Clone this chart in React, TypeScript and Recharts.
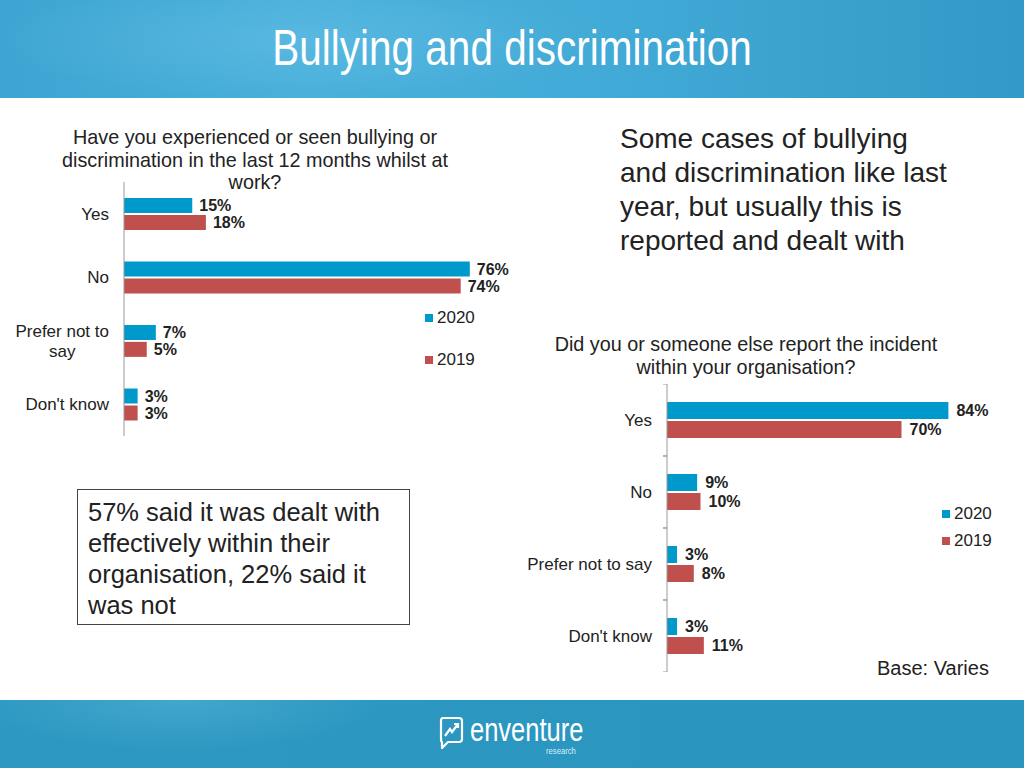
import React from "react";
import { BarChart, Bar, XAxis, YAxis, Legend, LabelList } from "recharts";

// question 1: experienced or seen bullying
const q1Categories = ["Yes", "No", "Prefer not to say", "Don't know"];
const q1Values2020 = [15, 76, 7, 3];
const q1Values2019 = [18, 74, 5, 3];
const q1TickLines: Record<string, string[]> = {
  "Prefer not to say": ["Prefer not to", "say"],
};

// question 2: was it reported
const q2Categories = ["Yes", "No", "Prefer not to say", "Don't know"];
const q2Values2020 = [84, 9, 3, 3];
const q2Values2019 = [70, 10, 8, 11];

const seriesNames = ["2020", "2019"];

const q1Data = q1Categories.map((name, i) => ({
  name,
  y2020: q1Values2020[i],
  y2019: q1Values2019[i],
}));
const q2Data = q2Categories.map((name, i) => ({
  name,
  y2020: q2Values2020[i],
  y2019: q2Values2019[i],
}));

const BLUE = "#0099cc";
const RED = "#c0504d";
const FONT = "'Liberation Sans', Arial, sans-serif";

let ctx: CanvasRenderingContext2D | null = null;
const measure = (s: string) => {
  if (!ctx) ctx = document.createElement("canvas").getContext("2d");
  if (!ctx) return s.length * 8;
  ctx.font = `17px ${FONT}`;
  return ctx.measureText(s).width;
};

const makeTick =
  (lineMap: Record<string, string[]>, margin: number, boundaries: boolean) =>
  (props: any) => {
    const { x, y, payload } = props;
    const lines = lineMap[payload.value] ?? [payload.value];
    const half = payload.offset ?? 36;
    const axisX = x + margin;
    let text;
    if (lines.length === 1) {
      text = (
        <text x={x} y={y} dy={6} textAnchor="end" fontSize={17} fill="#222" fontFamily={FONT}>
          {lines[0]}
        </text>
      );
    } else {
      const w = Math.max(...lines.map(measure));
      const lh = 20;
      const top = y - ((lines.length - 1) * lh) / 2;
      text = (
        <text textAnchor="middle" fontSize={17} fill="#222" fontFamily={FONT}>
          {lines.map((l, i) => (
            <tspan key={i} x={x - w / 2} y={top + i * lh} dy={6}>
              {l}
            </tspan>
          ))}
        </text>
      );
    }
    return (
      <g>
        {text}
        {boundaries && (
          <g stroke="#999" strokeWidth={1}>
            <line x1={axisX - 4} x2={axisX} y1={y - half} y2={y - half} />
            <line x1={axisX - 4} x2={axisX} y1={y + half} y2={y + half} />
          </g>
        )}
      </g>
    );
  };

const makeLegend = (gap: number) => (props: any) => {
  const items = [...(props.payload || [])].sort(
    (a: any, b: any) => seriesNames.indexOf(a.value) - seriesNames.indexOf(b.value)
  );
  return (
    <div style={{ fontFamily: FONT, fontSize: 17, color: "#222" }}>
      {items.map((it: any, i: number) => (
        <div
          key={i}
          style={{ display: "flex", alignItems: "center", height: 20, marginBottom: i < items.length - 1 ? gap : 0 }}
        >
          <span style={{ width: 8, height: 8, background: it.color, marginRight: 4, display: "inline-block" }} />
          <span>{it.value}</span>
        </div>
      ))}
    </div>
  );
};

const labelStyle = { fontSize: 16, fontWeight: 700, fill: "#222", fontFamily: FONT };
const pct = (v: any) => `${v}%`;

const Q1Chart = () => (
  <BarChart
    width={600}
    height={254}
    data={q1Data}
    layout="vertical"
    margin={{ top: 0, right: 21, bottom: 0, left: 0 }}
    barCategoryGap="25%"
    barGap={2}
  >
    <XAxis type="number" domain={[0, 100]} hide />
    <YAxis
      type="category"
      dataKey="name"
      width={124}
      axisLine={{ stroke: "#999" }}
      tickLine={false}
      tickSize={0}
      tickMargin={15}
      tick={makeTick(q1TickLines, 15, false)}
      interval={0}
    />
    <Legend
      layout="vertical"
      align="center"
      verticalAlign="middle"
      wrapperStyle={{ left: 425, top: 126, width: 80 }}
      content={makeLegend(22)}
    />
    <Bar dataKey="y2020" name={seriesNames[0]} fill={BLUE} isAnimationActive={false}>
      <LabelList dataKey="y2020" position="right" offset={7} formatter={pct} style={labelStyle} />
    </Bar>
    <Bar dataKey="y2019" name={seriesNames[1]} fill={RED} isAnimationActive={false}>
      <LabelList dataKey="y2019" position="right" offset={7} formatter={pct} style={labelStyle} />
    </Bar>
  </BarChart>
);

const Q2Chart = () => (
  <BarChart
    width={520}
    height={288}
    data={q2Data}
    layout="vertical"
    margin={{ top: 0, right: 18, bottom: 0, left: 0 }}
    barCategoryGap="25%"
    barGap={2}
  >
    <XAxis type="number" domain={[0, 100]} hide />
    <YAxis
      type="category"
      dataKey="name"
      width={167}
      axisLine={{ stroke: "#999" }}
      tickLine={false}
      tickSize={0}
      tickMargin={15}
      tick={makeTick({}, 15, true)}
      interval={0}
    />
    <Legend
      layout="vertical"
      align="center"
      verticalAlign="middle"
      wrapperStyle={{ left: 442, top: 120, width: 80 }}
      content={makeLegend(7)}
    />
    <Bar dataKey="y2020" name={seriesNames[0]} fill={BLUE} isAnimationActive={false}>
      <LabelList dataKey="y2020" position="right" offset={8} formatter={pct} style={labelStyle} />
    </Bar>
    <Bar dataKey="y2019" name={seriesNames[1]} fill={RED} isAnimationActive={false}>
      <LabelList dataKey="y2019" position="right" offset={8} formatter={pct} style={labelStyle} />
    </Bar>
  </BarChart>
);

const Logo = () => (
  <div style={{ position: "absolute", left: 438, top: 712, width: 160, height: 46 }}>
    <svg width={28} height={36} style={{ position: "absolute", left: 0, top: 4 }}>
      <path
        d="M5 2 H21 Q24 2 24 5 V23 Q24 26 21 26 H10 L4 32 V26 Q3 26 3 23 V5 Q3 2 5 2 Z"
        fill="none"
        stroke="#fff"
        strokeWidth={2.2}
        strokeLinejoin="round"
      />
      <path d="M7 20 L12 13 L14 16 L20 8 M16 8 H20 V12" fill="none" stroke="#fff" strokeWidth={2.2} />
    </svg>
    <div
      style={{
        position: "absolute",
        left: 32,
        top: 4,
        fontSize: 34,
        lineHeight: "26px",
        height: 26,
        color: "#fff",
        transform: "scaleX(0.75)",
        transformOrigin: "0 0",
        whiteSpace: "nowrap",
      }}
    >
      enventure
    </div>
    <div
      style={{
        position: "absolute",
        left: 108,
        top: 35,
        fontSize: 9,
        lineHeight: "9px",
        color: "#d8eef7",
        transform: "scaleX(0.85)",
        transformOrigin: "0 0",
      }}
    >
      research
    </div>
  </div>
);

export default function App() {
  return (
    <div
      style={{
        position: "absolute",
        left: 0,
        top: 0,
        width: 1024,
        height: 768,
        background: "#fff",
        overflow: "hidden",
        fontFamily: FONT,
        color: "#222",
      }}
    >
      {/* header band */}
      <div
        style={{
          position: "absolute",
          left: 0,
          top: 0,
          width: 1024,
          height: 98,
          background:
            "radial-gradient(ellipse 300px 60px at 300px 40px, rgba(120,200,235,0.35), transparent), linear-gradient(90deg, #3ea5d2 0%, #48b0db 30%, #42aad6 60%, #3399c6 100%)",
        }}
      />
      <div
        style={{
          position: "absolute",
          left: 0,
          top: 19,
          width: 1024,
          textAlign: "center",
          fontSize: 50,
          color: "#fff",
          transform: "scaleX(0.81)",
          transformOrigin: "512px 0",
          whiteSpace: "nowrap",
        }}
      >
        Bullying and discrimination
      </div>

      {/* footer band */}
      <div
        style={{
          position: "absolute",
          left: 0,
          top: 700,
          width: 1024,
          height: 68,
          background:
            "radial-gradient(ellipse 200px 50px at 180px 0px, rgba(90,180,215,0.5), transparent), linear-gradient(90deg, #2d99c3 0%, #2b97c1 60%, #2a95bf 100%)",
        }}
      />
      <Logo />

      {/* chart 1 title */}
      <div
        style={{
          position: "absolute",
          left: 20,
          top: 126,
          width: 470,
          textAlign: "center",
          fontSize: 19.8,
          lineHeight: "22.5px",
        }}
      >
        Have you experienced or seen bullying or
        <br />
        discrimination in the last 12 months whilst at
        <br />
        work?
      </div>
      <div style={{ position: "absolute", left: 0, top: 182 }}>
        <Q1Chart />
      </div>

      {/* headline text */}
      <div
        style={{
          position: "absolute",
          left: 620,
          top: 122,
          width: 400,
          fontSize: 28,
          lineHeight: "34px",
        }}
      >
        Some cases of bullying
        <br />
        and discrimination like last
        <br />
        year, but usually this is
        <br />
        reported and dealt with
      </div>

      {/* chart 2 title */}
      <div
        style={{
          position: "absolute",
          left: 506,
          top: 333,
          width: 480,
          textAlign: "center",
          fontSize: 19.8,
          lineHeight: "23px",
        }}
      >
        Did you or someone else report the incident
        <br />
        within your organisation?
      </div>
      <div style={{ position: "absolute", left: 500, top: 384 }}>
        <Q2Chart />
      </div>

      {/* boxed note */}
      <div
        style={{
          position: "absolute",
          left: 77,
          top: 489,
          width: 333,
          height: 136,
          boxSizing: "border-box",
          border: "1px solid #444",
          padding: "7px 10px",
          fontSize: 25.5,
          lineHeight: "31px",
          whiteSpace: "nowrap",
        }}
      >
        57% said it was dealt with
        <br />
        effectively within their
        <br />
        organisation, 22% said it
        <br />
        was not
      </div>

      <div style={{ position: "absolute", left: 877, top: 657, fontSize: 20 }}>Base: Varies</div>
    </div>
  );
}
